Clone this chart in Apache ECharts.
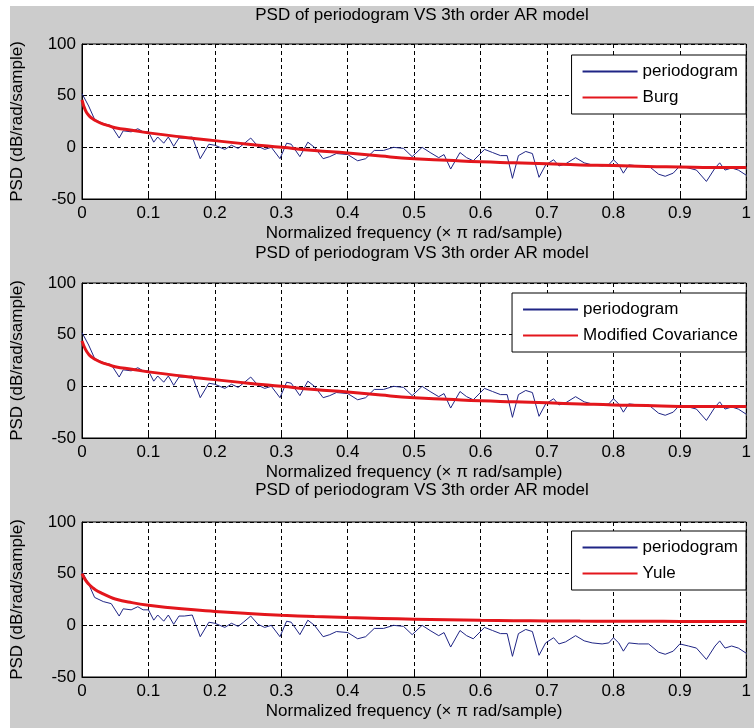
<!DOCTYPE html>
<html>
<head>
<meta charset="utf-8">
<script src="https://cdn.jsdelivr.net/npm/echarts@6/dist/echarts.min.js"></script>
<style>
html,body{margin:0;padding:0;background:#fff;}
#c{width:754px;height:728px;}
</style>
</head>
<body>
<div id="c"></div>
<script>
// ---- data ----
const chartTitle = 'PSD of periodogram VS 3th order AR model';
const xLabel = 'Normalized frequency (\u00d7 \u03c0 rad/sample)';
const yLabel = 'PSD (dB/rad/sample)';
const modelNames = ['Burg', 'Modified Covariance', 'Yule'];

const periodFreq = [0,0.01,0.019,0.032,0.044,0.056,0.062,0.074,0.084,0.092,0.1,0.108,0.114,0.123,0.13,0.138,0.146,0.154,0.166,0.178,0.191,0.2,0.215,0.225,0.235,0.243,0.254,0.265,0.275,0.285,0.298,0.308,0.315,0.328,0.34,0.35,0.363,0.373,0.383,0.4,0.415,0.427,0.44,0.454,0.469,0.484,0.497,0.512,0.524,0.537,0.545,0.555,0.569,0.579,0.589,0.606,0.618,0.63,0.64,0.648,0.657,0.668,0.678,0.688,0.698,0.71,0.718,0.728,0.743,0.756,0.768,0.783,0.793,0.8,0.808,0.815,0.823,0.838,0.853,0.868,0.878,0.89,0.9,0.913,0.925,0.94,0.953,0.96,0.968,0.978,0.988,1.0];
const periodPSD = [52,40,27,23,21,9,16,15,18,15,15,5,10,4,10,1,9,9,10,-11,3,2,-2,2,-1,3,9,1,-2,0,-11,4,3,-9,5,0,-11,-9,-6,-7,-13,-11,-3,-3,0,-1,-9,0,-5,-10,-7,-21,-5,-10,-13,-2,-5,-8,-8,-30,-8,-4,-6,-29,-17,-12,-18,-16,-10,-15,-17,-18,-17,-12,-17,-25,-17,-18,-18,-26,-28,-25,-18,-20,-22,-33,-20,-15,-22,-20,-22,-27];

const arFreq = [0,0.005,0.01,0.015,0.02,0.03,0.04,0.05,0.075,0.1,0.15,0.2,0.25,0.3,0.35,0.4,0.45,0.5,0.55,0.6,0.65,0.7,0.75,0.8,0.85,0.9,0.95,1.0];
const burgPSD = [46,36,31,28,26,23,21,19,16.5,14,10,6.5,3,0,-3,-5.5,-8.5,-11,-12.5,-14,-15,-16,-17,-17.5,-18.5,-19,-19.5,-19.5];
const modcovPSD = [44,36,31,28,26,23,21,19,16.5,14,10,6.5,3,0,-3,-5.5,-8.5,-11,-12.5,-14,-15,-16,-17,-18,-18.5,-19.5,-19.5,-19.5];
const yulePSD = [50,44,40,37,34.5,31,28,25.5,22,19.5,16,13.5,11.5,9.8,8.5,7.5,6.7,6,5.4,4.8,4.5,4.3,4.1,4,3.9,3.8,3.7,3.7];
const modelPSD = [burgPSD, modcovPSD, yulePSD];

const xTicks = {min: 0, max: 1, interval: 0.1};
const yTicks = {min: -50, max: 100, interval: 50};

// ---- layout ----
const FONT = '"Liberation Sans", Arial, sans-serif';
const FS = 17;
const gridTops = [44, 283, 522];
const gridH = 155;
const gridL = 82, gridW = 670;
const legendTops = [55, 293, 531];
const titleTops = [2, 240, 477];

const pairs = (xs, ys) => xs.map((x, i) => [x, ys[i]]);

const grids = [], xAxes = [], yAxes = [], series = [], titles = [], legends = [];
for (let k = 0; k < 3; k++) {
  grids.push({left: gridL, top: gridTops[k], width: gridW, height: gridH,
    show: true, backgroundColor: '#fff', borderColor: '#000', borderWidth: 1});
  xAxes.push({type: 'value', gridIndex: k, min: xTicks.min, max: xTicks.max, interval: xTicks.interval,
    name: xLabel, nameLocation: 'middle', nameGap: 26,
    nameTextStyle: {fontFamily: FONT, fontSize: FS, color: '#000'},
    axisLine: {show: true, onZero: false, lineStyle: {color: '#000', width: 1}},
    axisTick: {show: true, inside: true, length: 5, lineStyle: {color: '#000'}},
    axisLabel: {fontFamily: FONT, fontSize: FS, color: '#000', margin: 6,
      formatter: v => String(+v.toFixed(1))},
    splitLine: {show: true, lineStyle: {color: '#000', type: [4, 3], width: 1}}
  });
  yAxes.push({type: 'value', gridIndex: k, min: yTicks.min, max: yTicks.max, interval: yTicks.interval,
    name: yLabel, nameLocation: 'middle', nameGap: 56, nameRotate: 90,
    nameTextStyle: {fontFamily: FONT, fontSize: FS, color: '#000'},
    axisLine: {show: true, onZero: false, lineStyle: {color: '#000', width: 1}},
    axisTick: {show: true, inside: true, length: 5, lineStyle: {color: '#000'}},
    axisLabel: {fontFamily: FONT, fontSize: FS, color: '#000', margin: 6},
    splitLine: {show: true, lineStyle: {color: '#000', type: [4, 3], width: 1}}
  });
  series.push({type: 'line', name: 'periodogram', xAxisIndex: k, yAxisIndex: k,
    data: pairs(periodFreq, periodPSD), symbol: 'none', smooth: false,
    lineStyle: {color: '#1f2585', width: 1}, itemStyle: {color: '#1f2585'}, z: 3, silent: true});
  series.push({type: 'line', name: modelNames[k], xAxisIndex: k, yAxisIndex: k,
    data: pairs(arFreq, modelPSD[k]), symbol: 'none', smooth: true,
    lineStyle: {color: '#e3161c', width: 3}, itemStyle: {color: '#e3161c'}, z: 4, silent: true});
  titles.push({text: chartTitle, left: gridL + gridW / 2, top: titleTops[k], textAlign: 'center',
    textStyle: {fontFamily: FONT, fontSize: FS, fontWeight: 'normal', color: '#000'}});
  legends.push({data: ['periodogram', modelNames[k]], orient: 'vertical', right: 8, top: legendTops[k],
    backgroundColor: '#fff', borderColor: '#000', borderWidth: 1, borderRadius: 0,
    padding: [8, 8, 8, 10], itemWidth: 55, itemHeight: 14, itemGap: 9, selectedMode: false,
    itemStyle: {opacity: 0, borderWidth: 0},
    textStyle: {fontFamily: FONT, fontSize: FS, color: '#000'}});
}

const chart = echarts.init(document.getElementById('c'), null, {renderer: 'canvas'});
chart.setOption({
  animation: false,
  backgroundColor: '#fff',
  graphic: [{type: 'rect', shape: {x: 10, y: 6, width: 744, height: 722}, style: {fill: '#cccccc'}, z: -10, silent: true}],
  title: titles,
  legend: legends,
  grid: grids,
  xAxis: xAxes,
  yAxis: yAxes,
  series: series
});
</script>
</body>
</html>
